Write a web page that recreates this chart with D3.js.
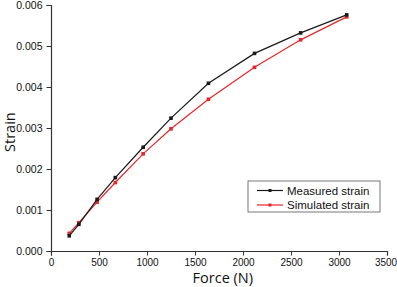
<!DOCTYPE html>
<html>
<head>
<meta charset="utf-8">
<script src="https://cdn.jsdelivr.net/npm/d3@7"></script>
<style>
  body { margin: 0; background: #fff; }
  svg text { font-family: "Liberation Sans", Arial, sans-serif; }
</style>
</head>
<body>
<div class="chart-box"></div>
<script>
// data
var force = [190, 290, 480, 670, 960, 1250, 1640, 2120, 2600, 3080];
var measured = [0.00037, 0.00065, 0.00126, 0.00179, 0.00253, 0.00324, 0.00409, 0.00482, 0.00532, 0.00576];
var simulated = [0.00043, 0.00069, 0.00119, 0.00167, 0.00237, 0.00298, 0.00370, 0.00448, 0.00515, 0.00571];
var xTicks = [0, 500, 1000, 1500, 2000, 2500, 3000, 3500];
var yTicks = [0, 0.001, 0.002, 0.003, 0.004, 0.005, 0.006];
var seriesNames = ["Measured strain", "Simulated strain"];
var seriesColors = ["#1a1a1a", "#e8262a"];

var width = 397, height = 287;
var margin = { left: 51, right: 10, top: 5, bottom: 36 };

var svg = d3.select(".chart-box").append("svg")
    .attr("width", width)
    .attr("height", height);

var x = d3.scaleLinear().domain([0, 3500]).range([margin.left, width - margin.right]);
var y = d3.scaleLinear().domain([0, 0.006]).range([height - margin.bottom, margin.top]);

var axisColor = "#333";

// x axis
var gx = svg.append("g")
    .attr("transform", "translate(0," + y(0) + ")");
gx.call(d3.axisBottom(x).tickValues(d3.range(250, 3500, 500)).tickSize(2.5).tickFormat(""));
gx.call(d3.axisBottom(x).tickValues(xTicks).tickSize(4.5).tickPadding(3).tickFormat(d3.format("d")));
gx.selectAll("path.domain").attr("stroke", axisColor).attr("stroke-width", 1.2);
gx.selectAll("line").attr("stroke", axisColor);
gx.selectAll("text").attr("fill", "#111").style("font-size", "10px");
// last label sits right at the edge
gx.selectAll(".tick text").filter(function(d) { return d === 3500; }).attr("dx", -1.5);

// y axis
var gy = svg.append("g")
    .attr("transform", "translate(" + x(0) + ",0)");
gy.call(d3.axisLeft(y).tickValues(d3.range(0.0005, 0.006, 0.001)).tickSize(2.5).tickFormat(""));
gy.call(d3.axisLeft(y).tickValues(yTicks).tickSize(4.5).tickPadding(4).tickFormat(d3.format(".3f")));
gy.selectAll("path.domain").attr("stroke", axisColor).attr("stroke-width", 1.2);
gy.selectAll("line").attr("stroke", axisColor);
gy.selectAll("text").attr("fill", "#111").style("font-size", "10.5px");

// axis titles
svg.append("text")
    .attr("x", x(1790))
    .attr("y", 283)
    .attr("text-anchor", "middle")
    .style("font-family", "'Open Sans', sans-serif")
    .style("font-size", "14.5px")
    .attr("fill", "#111")
    .text("Force (N)");

svg.append("text")
    .attr("transform", "translate(15," + y(0.0029) + ") rotate(-90)")
    .attr("text-anchor", "middle")
    .style("font-family", "'Open Sans', sans-serif")
    .style("font-size", "14.5px")
    .attr("fill", "#111")
    .text("Strain");

// lines
var series = [measured, simulated];
var line = d3.line()
    .x(function(d, i) { return x(force[i]); })
    .y(function(d) { return y(d); });

// draw simulated first so measured sits on top
[1, 0].forEach(function(s) {
  svg.append("path")
      .datum(series[s])
      .attr("fill", "none")
      .attr("stroke", seriesColors[s])
      .attr("stroke-width", 1.2)
      .attr("d", line);

  svg.append("g").selectAll("rect")
    .data(series[s])
    .enter().append("rect")
      .attr("x", function(d, i) { return x(force[i]) - 1.8; })
      .attr("y", function(d) { return y(d) - 1.8; })
      .attr("width", 3.6)
      .attr("height", 3.6)
      .attr("fill", seriesColors[s]);
});

// legend
var legend = svg.append("g").attr("transform", "translate(248,181)");
legend.append("rect")
    .attr("width", 132)
    .attr("height", 31)
    .attr("fill", "#fff")
    .attr("stroke", "#555")
    .attr("stroke-width", 0.8);

seriesNames.forEach(function(name, i) {
  var ly = 9.5 + i * 14.5;
  legend.append("line")
      .attr("x1", 9).attr("x2", 35)
      .attr("y1", ly).attr("y2", ly)
      .attr("stroke", seriesColors[i])
      .attr("stroke-width", 1.2);
  legend.append("rect")
      .attr("x", 22 - 1.5).attr("y", ly - 1.5)
      .attr("width", 3).attr("height", 3)
      .attr("fill", seriesColors[i]);
  legend.append("text")
      .attr("x", 39)
      .attr("y", ly + 4)
      .style("font-size", "11.5px")
      .attr("fill", "#111")
      .text(name);
});
</script>
</body>
</html>
